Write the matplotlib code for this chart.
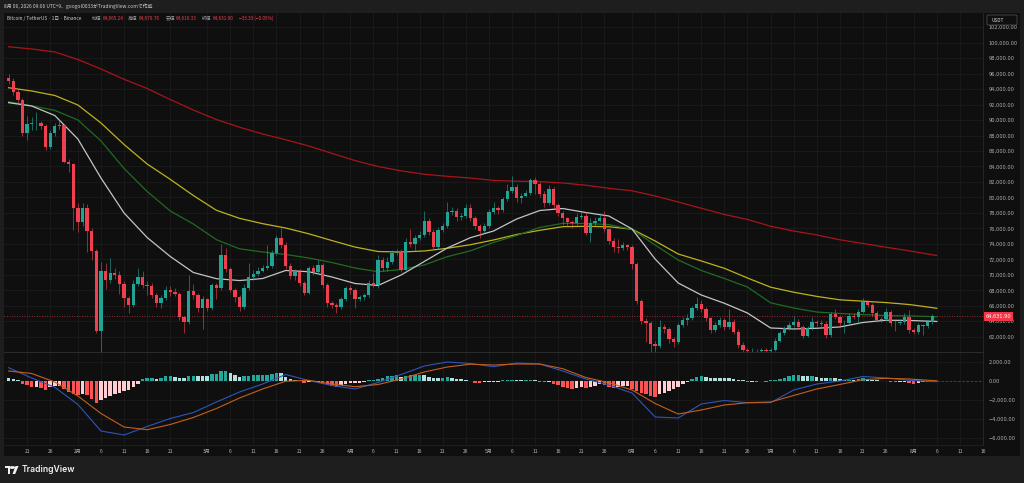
import matplotlib
matplotlib.use("Agg")
import matplotlib.pyplot as plt
import matplotlib.patches as mpatches
from matplotlib.ticker import FuncFormatter
from matplotlib.transforms import blended_transform_factory
import numpy as np
import pandas as pd

plt.rcParams['font.family'] = ['Noto Sans CJK JP', 'DejaVu Sans']

# --- data (daily BTC/USDT, Binance) ---
start_date = '2026-01-17'
first_open = 95480
closes = [
    95090, 93670, 92590, 88370, 89450, 89580, 89620, 89230, 86560, 88290,
    89230, 89360, 84620, 84320, 78680, 76870, 78680, 75660, 73120, 62740,
    70500, 69330, 70280, 69980, 68820, 66960, 66100, 68820, 69680, 68690,
    68600, 67390, 66320, 66960, 68040, 67820, 67520, 64510, 63950, 67950,
    67390, 65670, 66830, 65670, 68690, 68260, 72560, 70710, 68040, 67090,
    65800, 68260, 69760, 70110, 70540, 70840, 71140, 72780, 74800, 73860,
    71140, 69850, 70410, 68900, 67700, 70840, 70410, 71270, 68690, 66320,
    66100, 65890, 66830, 68260, 68040, 66830, 67090, 67390, 68900, 68690,
    71920, 70930, 71700, 72860, 72990, 70620, 74290, 73990, 74720, 75150,
    76960, 75580, 73640, 75790, 76310, 78160, 78290, 77430, 77600, 78590,
    77300, 76310, 75710, 76310, 78160, 78590, 78380, 79760, 80880, 81390,
    79890, 80190, 80620, 82260, 81740, 80450, 79240, 81050, 79030, 78030,
    77300, 76870, 76660, 77520, 77650, 75450, 76660, 77000, 77300, 75880,
    74370, 73550, 73420, 73860, 73550, 71360, 66660, 64030, 63730, 61060,
    60800, 63210, 62960, 61660, 61360, 63520, 64160, 64380, 65670, 66230,
    65540, 64380, 62870, 63520, 64160, 63210, 63950, 62650, 60930, 60250,
    60150, 60200, 60120, 60300, 60180, 60250, 61490, 62440, 63090, 63520,
    63950, 63300, 62090, 63090, 63950, 63730, 63650, 62220, 64940, 64590,
    63730, 63820, 64680, 64590, 65240, 66530, 66100, 65020, 64160, 64250,
    65240, 63730, 63820, 63950, 64590, 62870, 62650, 63520, 63390, 63950,
    64665.24, 64631.90,
]
highs = [
    95900, 95400, 94000, 92900, 90520, 90440, 91090, 89900, 89500, 88700,
    89600, 90000, 89500, 85000, 84500, 79300, 79330, 79200, 76000, 73400,
    71700, 71480, 72130, 70900, 70500, 69200, 67300, 69300, 70840, 70500,
    69200, 69000, 67700, 67400, 68600, 68600, 68300, 67800, 64700, 70000,
    68800, 67600, 67300, 67000, 69000, 69000, 73960, 73420, 71000, 68300,
    67400, 68800, 71500, 70600, 71000, 71300, 73850, 73200, 75200, 76000,
    74200, 71500, 70800, 70700, 69200, 71100, 71300, 71900, 71500, 68900,
    66600, 66300, 67100, 68600, 68690, 68300, 67400, 67700, 69300, 70190,
    72500, 72300, 72300, 73200, 73400, 73300, 74700, 75880, 75100, 75600,
    78290, 77300, 75900, 76200, 76700, 79450, 78800, 78600, 78000, 79200,
    79200, 77600, 76600, 76700, 78500, 79400, 78900, 80100, 81740, 82770,
    81800, 80600, 81000, 82500, 82600, 82000, 80800, 81600, 81300, 79300,
    78300, 77500, 77100, 78000, 78100, 78100, 77300, 77500, 78000, 78200,
    76100, 74700, 74600, 74200, 74000, 73800, 71700, 66900, 64400, 64000,
    61400, 64160, 63600, 63300, 62000, 63800, 64500, 64900, 66000, 67180,
    66700, 65800, 64600, 63900, 64500, 64400, 65540, 64300, 63000, 61300,
    60500, 60500, 60400, 60600, 60500, 60500, 61800, 62800, 63400, 63900,
    64700, 64300, 63500, 63400, 64600, 64200, 64100, 64000, 65200, 65540,
    64800, 64200, 65000, 65000, 65600, 66960, 66800, 66300, 65300, 64600,
    65700, 65500, 64100, 64300, 65000, 65400, 63100, 63800, 63700, 64200,
    64900, 64679.76,
]
lows = [
    94700, 93300, 92200, 87940, 87420, 88720, 88700, 88900, 86130, 86300,
    87900, 88900, 84400, 83330, 75800, 75500, 76300, 72990, 71920, 62440,
    60070, 68200, 69000, 69500, 67500, 65890, 65110, 65900, 68500, 68300,
    67400, 67000, 65900, 65700, 66700, 67300, 67200, 64200, 62480, 63700,
    66900, 65200, 62950, 65300, 65500, 66900, 68000, 70300, 67800, 66500,
    65300, 65600, 68000, 69300, 69900, 70300, 70600, 70900, 72500, 73500,
    70800, 69500, 69300, 68500, 67400, 67500, 70000, 70100, 68300, 65800,
    65700, 65020, 65600, 66600, 67500, 65670, 66600, 66800, 67100, 68400,
    68300, 70500, 70500, 71400, 72500, 70300, 70400, 73600, 73200, 74500,
    74900, 75200, 73300, 73400, 75500, 76000, 77700, 77000, 77100, 77300,
    77000, 75900, 74700, 75400, 76000, 77900, 77900, 78160, 79500, 80600,
    79450, 79300, 80000, 80300, 80500, 80100, 78800, 79000, 78700, 77600,
    76500, 76300, 76000, 76400, 77200, 75100, 74290, 76300, 76800, 75500,
    74000, 72900, 72800, 73200, 73200, 70700, 66200, 63600, 61300, 60050,
    60050, 60500, 62500, 61200, 60700, 61100, 63200, 63500, 64100, 65400,
    65200, 64000, 62500, 62600, 63300, 62900, 63000, 62300, 60500, 59800,
    59800, 59900, 59800, 59900, 59900, 59800, 60100, 61300, 62200, 62900,
    63300, 63000, 61800, 61900, 62900, 63400, 63300, 61800, 62000, 64300,
    63400, 62520, 63600, 64300, 63600, 65000, 65800, 64700, 63900, 63900,
    64000, 63400, 62780, 63500, 63700, 62500, 62300, 62400, 62200, 63100,
    63700, 64619.33,
]

# moving averages, every 5th candle + last candle
ma_idx = list(range(0, 201, 5)) + [201]
ma_red = [99480, 99190, 98800, 97830, 96600, 95270, 94080, 92660, 91300, 90070,
          89080, 88200, 87460, 86650, 85700, 84770, 84000, 83440, 83000, 82730,
          82510, 82200, 82100, 82050, 81870, 81580, 81180, 80860, 80190, 79410,
          78600, 77800, 77150, 76280, 75660, 75150, 74530, 74050, 73570, 73100,
          72590, 72500]
ma_yellow = [94180, 93760, 93180, 91950, 89620, 86840, 84320, 82340, 80250, 78340,
             77300, 76610, 76050, 75300, 74430, 73590, 73010, 72950, 73080, 73430,
             73890, 74500, 75210, 75750, 76220, 76270, 76210, 75900, 74370, 72690,
             71790, 70840, 69590, 68400, 67750, 67210, 66770, 66590, 66410, 66160,
             65760, 65670]
ma_green = [92370, 91840, 91260, 90010, 87300, 83740, 80770, 78250, 76570, 74540,
            73360, 72950, 72630, 72170, 71590, 70880, 70400, 70690, 71270, 72350,
            73100, 74180, 75080, 76120, 76650, 76630, 76490, 75870, 73850, 71910,
            70560, 69520, 68420, 66380, 65710, 65190, 65000, 64860, 64740, 64680,
            64600, 64590]
ma_white = [92250, 91820, 90590, 87550, 82510, 77990, 74820, 72370, 70300, 69500,
            69260, 69520, 70560, 70400, 69720, 68880, 68620, 69980, 71720, 73470,
            74800, 75660, 77210, 78310, 78570, 78050, 77600, 75920, 72040, 68940,
            67390, 66320, 65060, 63130, 63000, 63090, 63260, 63840, 64130, 64100,
            63990, 63970]

# MACD pane
macd_idx = list(range(0, 201, 5)) + [201]
macd_line = [1400, 316, -663, -2474, -5263, -5684, -4789, -3947, -3316, -2211,
             -1158, -316, 684, 53, -474, -842, -158, 684, 1579, 2000,
             1842, 1505, 1895, 1789, 1053, 211, -421, -1263, -3789, -3895,
             -2421, -2053, -2284, -2284, -947, -316, 0, 474, 316, 74,
             -60, -74]
signal_line = [1053, 789, -105, -1579, -3421, -4842, -5126, -4579, -3842, -2895,
               -1789, -842, -21, 74, -316, -600, -368, 211, 947, 1474,
               1768, 1684, 1789, 1789, 1295, 368, -179, -947, -2368, -3474,
               -3053, -2526, -2284, -2211, -1526, -842, -368, 137, 284, 211,
               50, 32]
hist = [
    350, 250, 80, -280, -450, -630, -630, -700, -910, -630,
    -560, -540, -800, -1160, -1330, -1510, -1400, -1510, -1860, -2320,
    -2040, -1760, -1610, -1400, -1260, -1050, -910, -630, -280, 250,
    280, 350, 210, 350, 490, 560,
    420, 350, 320, 490, 520, 490, 490, 480, 700, 770,
    1020, 1050, 840, 600, 420, 500, 560, 580, 600, 620,
    640, 700, 840, 820, 420, 250, 140, 10, -210, -100,
    -120, -70, -280, -450, -560,
    -630, -450, -280, -210, -200, -190, -100, 70, 140, 250,
    350, 490, 560, 580, 420, 560, 600, 620, 670, 600,
    420, 350, 340, 360, 380, 350, 250, 175, 140, 20,
    -210, -230, -140, -100, -90, -70,
    70, 140, 150, 100, 80, 90, 110, 70, -70, -140,
    -100, -280, -450, -630, -700, -800, -700, -630, -700, -630,
    -490, -350, -450, -630, -700, -630, -560, -490, -800, -1050,
    -1260, -1400, -1610, -1680, -1400,
    -1260, -1050, -800, -630, -350, -100, 250, 420, 490, 420,
    350, 340, 330, 320, 310, 250, 140, 70, -70, -60,
    -80, -40, -70, 70, 140, 250, 350, 490, 600, 620,
    560, 490, 500, 420, 350, 280,
    350, 280, 210, 140, 150, 70, 210, 280, 210, 140,
    70, 35, 40, -70, -100, -90, -70, -210, -280, -210,
    -140, -70, -40, -35,
]

last_price = 64631.90

# --- colours ---
BG = '#0f0f0f'
FRAME = '#1e1e1e'
GRID = '#1c1c1c'
UP = '#22a393'
DOWN = '#f0404f'
TXT = '#b4b4b4'

W, H = 1024, 483
fig = plt.figure(figsize=(W / 100, H / 100), dpi=100, facecolor=FRAME)


def fx(px):
    return px / W


def fy(py):
    return 1 - py / H


# dark chart area
fig.patches.append(mpatches.Rectangle((fx(4), fy(456)), fx(1016), (456 - 13) / H,
                                      transform=fig.transFigure, facecolor=BG,
                                      edgecolor='none', zorder=-5))

ax = fig.add_axes([fx(4), fy(352), fx(979), (352 - 13) / H], facecolor=BG)
ax2 = fig.add_axes([fx(4), fy(445), fx(979), (445 - 352) / H], facecolor=BG, sharex=ax)

n = len(closes)
idx = np.arange(n)
opens = np.array([first_open] + closes[:-1], dtype=float)
c = np.array(closes, dtype=float)
up = c >= opens
col = np.where(up, UP, DOWN)

# wicks + bodies
ax.vlines(idx, lows, highs, colors=col, linewidth=0.6, alpha=0.7, zorder=3)
body_lo = np.minimum(opens, c)
body_h = np.maximum(np.abs(c - opens), 50)
ax.bar(idx, body_h, bottom=body_lo, width=0.72, color=col, linewidth=0, zorder=4)

# moving averages
ax.plot(ma_idx, ma_red, color='#a8141c', lw=0.9, zorder=2)
ax.plot(ma_idx, ma_yellow, color='#bdb21e', lw=0.9, zorder=2)
ax.plot(ma_idx, ma_green, color='#1f6b22', lw=0.9, zorder=2)
ax.plot(ma_idx, ma_white, color='#c4c4c4', lw=0.9, zorder=2)

# last price line + tag
ax.axhline(last_price, color=DOWN, lw=0.6, ls=(0, (1, 2)), alpha=0.8, zorder=1)
ax.text(1.0025, last_price, f"{last_price:,.2f}", transform=blended_transform_factory(ax.transAxes, ax.transData),
        fontsize=3.6, color='white', va='center', ha='left', family='DejaVu Sans', clip_on=False,
        bbox=dict(boxstyle='square,pad=0.35', facecolor='#f23645', edgecolor='none'), zorder=10)

# MACD pane
h = np.array(hist, dtype=float)
prev = np.concatenate([[h[0]], h[:-1]])
hcol = np.where(h >= 0, np.where(h > prev, '#26a69a', '#b2dfdb'),
                np.where(h < prev, '#ff5252', '#ffcdd2'))
ax2.bar(idx, h, width=0.75, color=hcol, linewidth=0, zorder=3)
ax2.plot(macd_idx, macd_line, color='#2f55b8', lw=0.8, zorder=4)
ax2.plot(macd_idx, signal_line, color='#c4601c', lw=0.8, zorder=4)
ax2.plot([n - 1, 212], [0, 0], color='#555555', lw=0.5, ls=(0, (3, 3)), zorder=2)

# axes ranges
ax.set_xlim(-1.0, 210.1)
ax.set_ylim(60023, 103840)
ax2.set_ylim(-6737, 3053)

# time ticks
axis_days = pd.date_range(start_date, periods=212, freq='D')
tick_pos, tick_lab = [], []
for k, d in enumerate(axis_days):
    nxt = d + pd.offsets.MonthBegin(1)
    if d.day == 1:
        tick_lab.append(f"{d.month}月")
    elif d.day in (6, 11, 16, 21, 26) and (nxt - d).days >= 4:
        tick_lab.append(str(d.day))
    else:
        continue
    tick_pos.append(k)

ax2.set_xticks(tick_pos)
ax2.set_xticklabels(tick_lab)
ax.tick_params(axis='x', labelbottom=False, length=0)
ax2.tick_params(axis='x', length=0, pad=3, labelsize=3.6, labelcolor=TXT)

# price scale
price_fmt = FuncFormatter(lambda v, p: f"{v:,.2f}".replace('-', '\u2212'))
ax.set_yticks(np.arange(62000, 104000, 2000))
ax2.set_yticks([2000, 0, -2000, -4000, -6000])
for a in (ax, ax2):
    a.yaxis.tick_right()
    a.yaxis.set_major_formatter(price_fmt)
    a.tick_params(axis='y', length=0, pad=4, labelsize=3.6, labelcolor=TXT)
    a.grid(True, color=GRID, lw=0.6)
    a.set_axisbelow(True)
    for s in a.spines.values():
        s.set_visible(False)
    a.spines['right'].set_visible(True)
    a.spines['right'].set_color('#2a2a2a')
    a.spines['right'].set_linewidth(0.6)
    for lab in a.get_yticklabels():
        lab.set_family('DejaVu Sans')
for lab in ax2.get_xticklabels():
    lab.set_family(['Noto Sans CJK JP', 'DejaVu Sans'])
ax2.spines['top'].set_visible(True)
ax2.spines['top'].set_color('#2a2a2a')
ax2.spines['top'].set_linewidth(0.8)
ax2.spines['bottom'].set_visible(True)
ax2.spines['bottom'].set_color('#1e1e1e')

# USDT box
fig.patches.append(mpatches.FancyBboxPatch((fx(987), fy(25)), fx(30), 10 / H,
                                           boxstyle='round,pad=0,rounding_size=0.002',
                                           transform=fig.transFigure, facecolor=BG,
                                           edgecolor='#4a4a4a', linewidth=0.6, zorder=5))
fig.text(fx(991), fy(20), "USDT", fontsize=3.4, color='#d8d8d8', va='center', ha='left', zorder=6)

# header texts
fig.text(fx(4), fy(6), "8月 06, 2026 09:06 UTC+9、googol0033がTradingView.comで作成",
         fontsize=3.5, color='#cfcfcf', va='center', ha='left')
legend_parts = [
    (7, "Bitcoin / TetherUS · 1日 · Binance", '#cfcfcf'),
    (92, "始値", '#9a9a9a'), (103, "64,665.24", DOWN),
    (128, "高値", '#9a9a9a'), (139, "64,679.76", DOWN),
    (166, "安値", '#9a9a9a'), (176, "64,619.33", DOWN),
    (202, "終値", '#9a9a9a'), (213, "64,631.90", DOWN),
    (239, "\u221233.33 (\u22120.05%)", DOWN),
]
for px, s, cc in legend_parts:
    fig.text(fx(px), fy(18.5), s, fontsize=3.4, color=cc, va='center', ha='left')

# footer logo
fig.patches.append(mpatches.Rectangle((fx(5), fy(468)), fx(5), 2 / H, transform=fig.transFigure,
                                      facecolor='#f0f0f0', edgecolor='none'))
fig.patches.append(mpatches.Rectangle((fx(8), fy(474)), fx(2.2), 8 / H, transform=fig.transFigure,
                                      facecolor='#f0f0f0', edgecolor='none'))
fig.patches.append(mpatches.Circle((fx(12.3), fy(467.5)), 1.4 / H, transform=fig.transFigure,
                                   facecolor='#f0f0f0', edgecolor='none'))
fig.patches.append(mpatches.Polygon([(fx(12.5), fy(474)), (fx(15.5), fy(466)), (fx(18.5), fy(466)),
                                     (fx(15.2), fy(474))], closed=True, transform=fig.transFigure,
                                    facecolor='#f0f0f0', edgecolor='none'))
fig.text(fx(21.5), fy(470), "TradingView", fontsize=6.2, color='#f0f0f0', va='center', ha='left',
         family='Inter', fontweight='semibold')

fig.savefig('out.png', dpi=100, facecolor=FRAME)
